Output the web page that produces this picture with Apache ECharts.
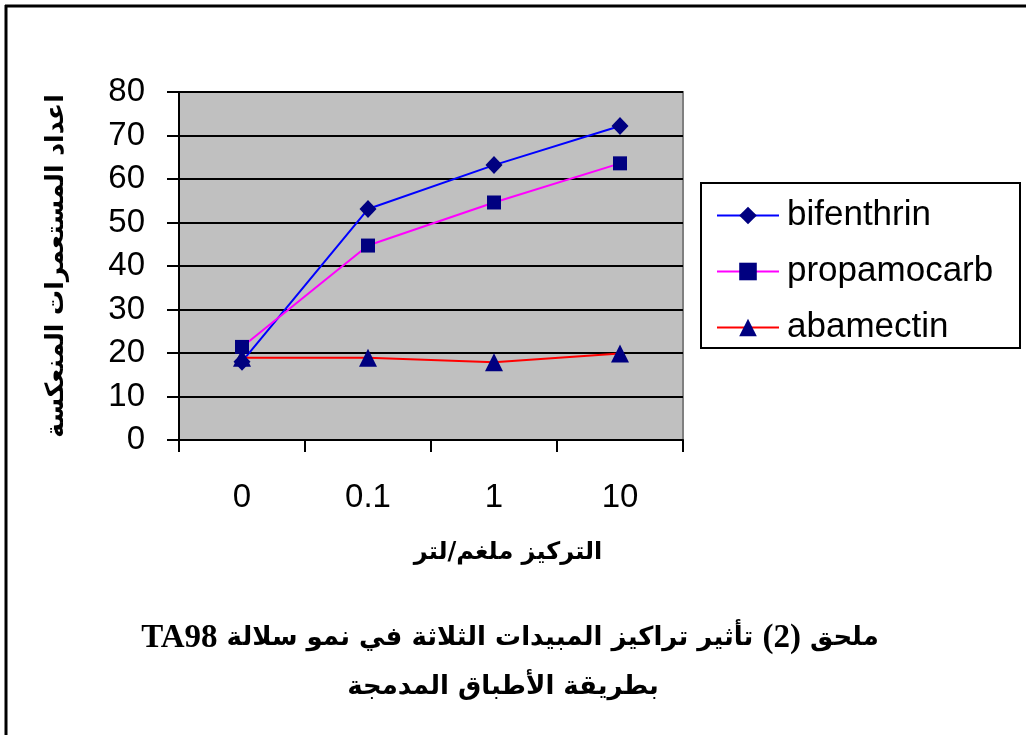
<!DOCTYPE html>
<html>
<head>
<meta charset="utf-8">
<script src="https://cdn.jsdelivr.net/npm/echarts@6/dist/echarts.min.js"></script>
<style>
html,body{margin:0;padding:0;background:#fff;}
#chart{width:1026px;height:735px;}
</style>
</head>
<body>
<div id="chart"></div>
<script>
const categories = ['0', '0.1', '1', '10'];
const bifenthrin = [18, 53.1, 63.2, 72.2];
const propamocarb = [21.4, 44.7, 54.6, 63.6];
const abamectin = [18.9, 18.9, 17.9, 19.9];
const seriesNames = ['bifenthrin', 'propamocarb', 'abamectin'];
const yAxisName = 'اعداد المستعمرات المنعكسة';
const xAxisName = 'التركيز ملغم/لتر';
// title line 1 pieces, in reading order: ملحق (2) تأثير تراكيز المبيدات الثلاثة في نمو سلالة TA98
const titleWord1 = 'ملحق';
const titleNum = '(2)';
const titleMid = 'تأثير تراكيز المبيدات الثلاثة في نمو سلالة';
const titleCode = 'TA98';
const titleLine2 = 'بطريقة الأطباق المدمجة';

const chart = echarts.init(document.getElementById('chart'), null, {renderer: 'canvas'});
const sans = 'Liberation Sans, Arial, sans-serif';
const arab = 'DejaVu Sans, sans-serif';
const serif = 'Liberation Serif, Times New Roman, serif';
const markerColor = '#000080';

// visual (left-to-right) order of the rich tokens for an RTL line
const line1Rich = '{lat|' + titleCode + '}{ar| ' + titleMid + ' }{lat|' + titleNum + '}{ar| ' + titleWord1 + '}';

chart.setOption({
  backgroundColor: '#ffffff',
  animation: false,
  grid: {
    left: 179, right: 343, top: 92, bottom: 295,
    show: true, backgroundColor: '#C0C0C0', borderColor: '#808080', borderWidth: 2
  },
  legend: {
    orient: 'vertical',
    left: 716, top: 198,
    itemWidth: 62, itemHeight: 22,
    itemGap: 21,
    padding: 0,
    textStyle: {fontFamily: sans, fontSize: 35, color: '#000', lineHeight: 34, padding: [0, 0, 0, 3]},
    data: seriesNames
  },
  xAxis: {
    type: 'category',
    data: categories,
    boundaryGap: true,
    axisLine: {lineStyle: {color: '#000', width: 2}},
    axisTick: {show: true, length: 12, inside: false, lineStyle: {color: '#000', width: 2}},
    axisLabel: {fontFamily: sans, fontSize: 33, color: '#000', margin: 41},
    splitLine: {show: false}
  },
  yAxis: {
    type: 'value',
    min: 0, max: 80, interval: 10,
    name: yAxisName,
    nameLocation: 'middle',
    nameRotate: 90,
    nameGap: 110,
    nameTextStyle: {fontFamily: arab, fontWeight: 'bold', fontSize: 25, color: '#000'},
    axisLine: {show: true, lineStyle: {color: '#000', width: 2}},
    axisTick: {show: true, length: 12, lineStyle: {color: '#000', width: 2}},
    axisLabel: {fontFamily: sans, fontSize: 33, color: '#000', margin: 34},
    splitLine: {show: true, lineStyle: {color: '#000', width: 2}}
  },
  series: [
    {
      name: seriesNames[0], type: 'line', data: bifenthrin,
      symbol: 'diamond', symbolSize: [17, 18],
      lineStyle: {color: '#0000FF', width: 2},
      itemStyle: {color: markerColor}
    },
    {
      name: seriesNames[1], type: 'line', data: propamocarb,
      symbol: 'rect', symbolSize: 14,
      lineStyle: {color: '#FF00FF', width: 2},
      itemStyle: {color: markerColor}
    },
    {
      name: seriesNames[2], type: 'line', data: abamectin,
      symbol: 'triangle', symbolSize: 18,
      lineStyle: {color: '#FF0000', width: 2},
      itemStyle: {color: markerColor}
    }
  ],
  graphic: [
    {type: 'line', shape: {x1: 5, y1: 6, x2: 1026, y2: 6}, style: {stroke: '#000', lineWidth: 3}},
    {type: 'line', shape: {x1: 6, y1: 5, x2: 6, y2: 735}, style: {stroke: '#000', lineWidth: 3}},
    {type: 'rect', shape: {x: 701, y: 183, width: 319, height: 165}, style: {fill: 'none', stroke: '#000', lineWidth: 2}, z: 10},
    {type: 'text', x: 508, y: 553, style: {text: '\u202B' + xAxisName + '\u202C', fontFamily: arab, fontWeight: 'bold', fontSize: 24, fill: '#000', align: 'center', verticalAlign: 'middle'}},
    {type: 'text', x: 510, y: 638, style: {
      text: line1Rich, align: 'center', verticalAlign: 'middle', fill: '#000',
      rich: {
        lat: {fontFamily: serif, fontWeight: 'bold', fontSize: 33, fill: '#000', lineHeight: 40, verticalAlign: 'middle'},
        ar: {fontFamily: arab, fontWeight: 'bold', fontSize: 26, fill: '#000', lineHeight: 40, verticalAlign: 'middle'}
      }
    }},
    {type: 'text', x: 503, y: 687, style: {text: '\u202B' + titleLine2 + '\u202C', fontFamily: arab, fontWeight: 'bold', fontSize: 26, fill: '#000', align: 'center', verticalAlign: 'middle'}}
  ]
});
</script>
</body>
</html>
